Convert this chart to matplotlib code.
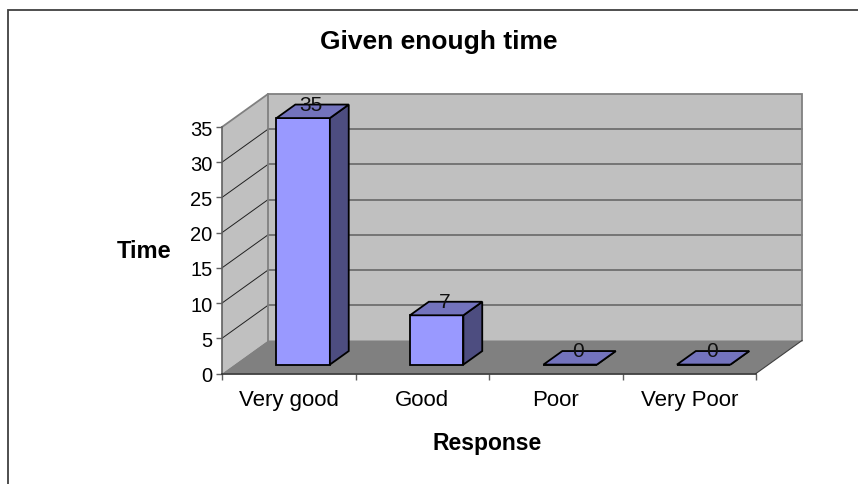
import matplotlib
matplotlib.use("Agg")
import matplotlib.pyplot as plt
from matplotlib.patches import Polygon
from matplotlib.lines import Line2D

categories = ["Very good", "Good", "Poor", "Very Poor"]
values = [35, 7, 0, 0]
y_ticks = [0, 5, 10, 15, 20, 25, 30, 35]
title = "Given enough time"
xlabel = "Response"
ylabel = "Time"

W, H = 858, 485
plt.rcParams["font.family"] = ["Liberation Sans", "DejaVu Sans"]
fig = plt.figure(figsize=(W / 100, H / 100), dpi=100, facecolor="white")
L, R, B, T = 222, 756, 374.5, 128
ax = fig.add_axes([L / W, 1 - B / H, (R - L) / W, (B - T) / H])
ax.patch.set_visible(False)
ax.set_xlim(0, len(categories))
ax.set_ylim(0, 35)

# depth of the 3D box, in data units
px_x = (R - L) / len(categories)
px_y = (B - T) / 35
DX, DY = 46 / px_x, 33 / px_y
xmax, ymax = len(categories), 35


def depth(x, y, d):
    return (x + d * DX, y + d * DY)


def poly(pts, fc, ec="none", lw=0, z=1):
    ax.add_patch(Polygon(pts, closed=True, facecolor=fc, edgecolor=ec, linewidth=lw,
                         zorder=z, clip_on=False, joinstyle="miter"))


WALL, FLOOR, EDGE, GRID = "#C0C0C0", "#808080", "#808080", "#606060"
poly([depth(0, 0, 1), depth(xmax, 0, 1), depth(xmax, ymax, 1), depth(0, ymax, 1)], WALL, z=1)
poly([depth(0, 0, 0), depth(0, 0, 1), depth(0, ymax, 1), depth(0, ymax, 0)], WALL, z=1)
poly([depth(0, 0, 0), depth(xmax, 0, 0), depth(xmax, 0, 1), depth(0, 0, 1)], FLOOR, z=1)

for t in y_ticks[1:-1]:
    a, b = depth(0, t, 1), depth(xmax, t, 1)
    ax.plot([a[0], b[0]], [a[1], b[1]], color=GRID, lw=1.1, zorder=2, clip_on=False)
    c = depth(0, t, 0)
    ax.plot([c[0], a[0]], [c[1], a[1]], color="#202020", lw=0.7, zorder=2, clip_on=False)

# wall outline
outline = [depth(0, 0, 0), depth(0, ymax, 0), depth(0, ymax, 1), depth(xmax, ymax, 1), depth(xmax, 0, 1)]
ax.plot([p[0] for p in outline[1:]], [p[1] for p in outline[1:]], color=EDGE, lw=1.3, zorder=2,
        clip_on=False, solid_joinstyle="miter")
a, b = depth(0, 0, 1), depth(0, ymax, 1)
ax.plot([a[0], b[0]], [a[1], b[1]], color=EDGE, lw=1.3, zorder=2, clip_on=False)
a, b = depth(xmax, 0, 0), depth(xmax, 0, 1)
ax.plot([a[0], b[0]], [a[1], b[1]], color="#404040", lw=0.8, zorder=2, clip_on=False)

# bars
BW, D0, D1, SHIFT = 0.40, 0.27, 0.68, 0.515
FRONT, TOP, SIDE = "#9999FF", "#7373BD", "#4D4D80"
for i, v in enumerate(values):
    x0, x1 = i + SHIFT - BW / 2, i + SHIFT + BW / 2
    poly([depth(x0, 0, D0), depth(x1, 0, D0), depth(x1, v, D0), depth(x0, v, D0)], FRONT, "black", 1.3, 3)
    poly([depth(x1, 0, D0), depth(x1, 0, D1), depth(x1, v, D1), depth(x1, v, D0)], SIDE, "black", 1.3, 3)
    poly([depth(x0, v, D0), depth(x1, v, D0), depth(x1, v, D1), depth(x0, v, D1)], TOP, "black", 1.3, 3)
    lx, ly = depth(i + 0.49, v, 0.52)
    ax.text(lx, ly, str(v), ha="center", va="baseline", fontsize=15, color="#101010", zorder=5, clip_on=False)

# axes
for s in ("top", "right"):
    ax.spines[s].set_visible(False)
ax.spines["left"].set_color("#606060")
ax.spines["left"].set_linewidth(1.2)
ax.spines["bottom"].set_color("#303030")
ax.spines["bottom"].set_linewidth(1.2)
for s in ax.spines.values():
    s.set_zorder(4)
ax.set_yticks(y_ticks)
ax.set_xticks(range(len(categories) + 1))
ax.set_xticklabels([])
ax.set_xticks([i + 0.5 for i in range(len(categories))], minor=True)
ax.set_xticklabels(categories, minor=True, fontsize=16)
ax.tick_params(axis="x", which="major", length=4, width=1.0, color="#606060")
ax.tick_params(axis="x", which="minor", length=0, pad=11)
ax.tick_params(axis="y", length=4, width=1.0, color="#606060", labelsize=14.5, pad=3)

ax.set_xlabel(xlabel, fontsize=16.5, fontweight="bold")
ax.xaxis.set_label_coords((487.5 - L) / (R - L), (B - 432) / (B - T))
ax.set_ylabel(ylabel, fontsize=17, fontweight="bold", rotation=0, ha="center", va="center")
ax.yaxis.set_label_coords((144.5 - L) / (R - L), (B - 251) / (B - T))
fig.text(439 / W, 1 - 42 / H, title, ha="center", va="center", fontsize=19, fontweight="bold")

# chart frame, cropped at the right and bottom
fig.add_artist(Line2D([8 / W, 8 / W, 1], [0, 1 - 11 / H, 1 - 11 / H], transform=fig.transFigure,
                      color="#404040", lw=1.3, solid_joinstyle="miter"))

fig.savefig("out.png", dpi=100)
